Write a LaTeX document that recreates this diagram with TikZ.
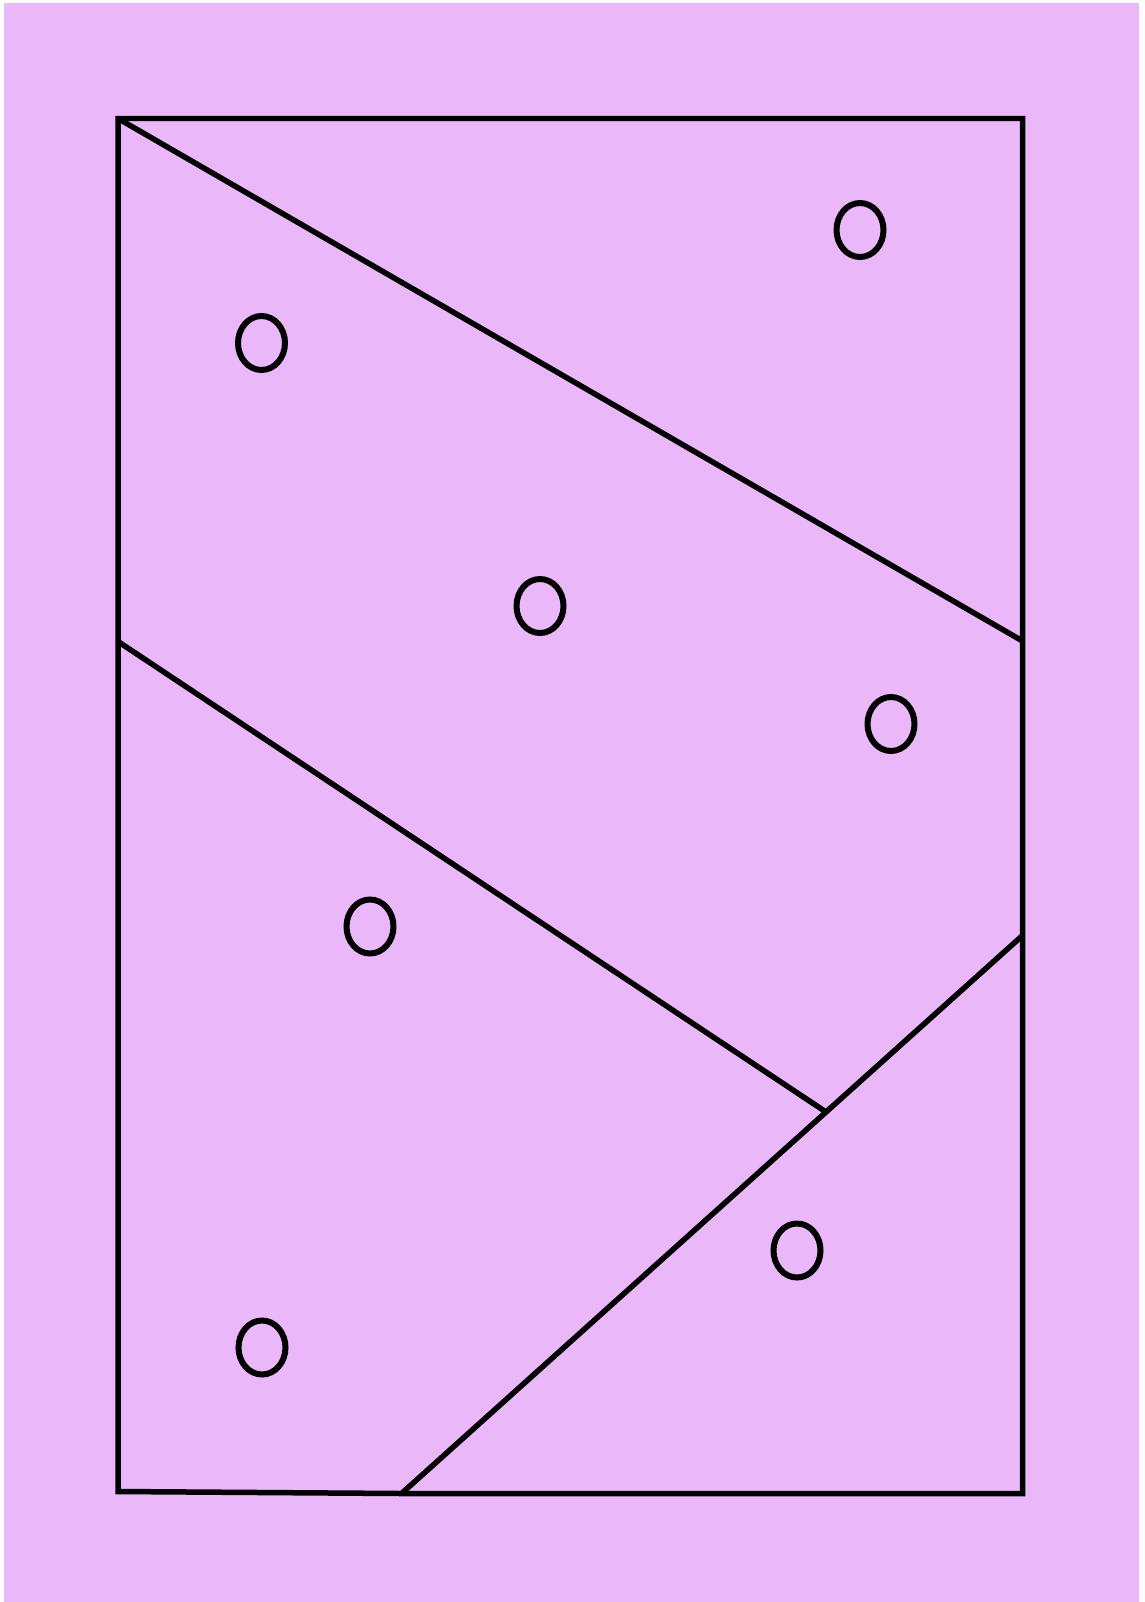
\documentclass[tikz,border=0pt]{standalone}
\usetikzlibrary{shapes.geometric}
\definecolor{bgpink}{RGB}{234,184,249}
\tikzset{
  edge/.style={line width=0.11cm, line join=miter},
  ring/.style={draw, ellipse, line width=0.12cm, inner sep=0pt,
    minimum width=0.94cm, minimum height=1.08cm},
}
\begin{document}
\begin{tikzpicture}[x=0.02cm, y=-0.02cm]
    \useasboundingbox (0,0) rectangle (1144,1602);
    % 背景
    \fill[white] (0,0) rectangle (1144,1602);
    \fill[bgpink] (4,3) rectangle (1139,1602);
    % 外枠の角
    \coordinate (tl) at (118,118.5);
    \coordinate (tr) at (1022.5,118.5);
    \coordinate (br) at (1022.5,1493.5);
    \coordinate (bl) at (118,1491.5);
    % 区切り線の端点
    \coordinate (rmid) at (1022.5,641);
    \coordinate (lmid) at (118,641.5);
    \coordinate (meet) at (824.5,1111);
    \coordinate (rlow) at (1022.5,935.5);
    \coordinate (bmid) at (401.5,1493.5);
    % 外枠
    \draw[edge] (tl) -- (tr) -- (br) -- (bmid) -- (bl) -- cycle;
    % 区切り線
    \draw[edge] (tl) -- (rmid);
    \draw[edge] (lmid) -- (meet);
    \draw[edge] (rlow) -- (bmid);
    % 点
    \node[ring] (p1) at (860,230) {};
    \node[ring] (p2) at (261.5,343) {};
    \node[ring] (p3) at (540,606) {};
    \node[ring] (p4) at (891,724) {};
    \node[ring] (p5) at (370,926.5) {};
    \node[ring] (p6) at (797,1250.5) {};
    \node[ring] (p7) at (262,1347.5) {};
\end{tikzpicture}
\end{document}
